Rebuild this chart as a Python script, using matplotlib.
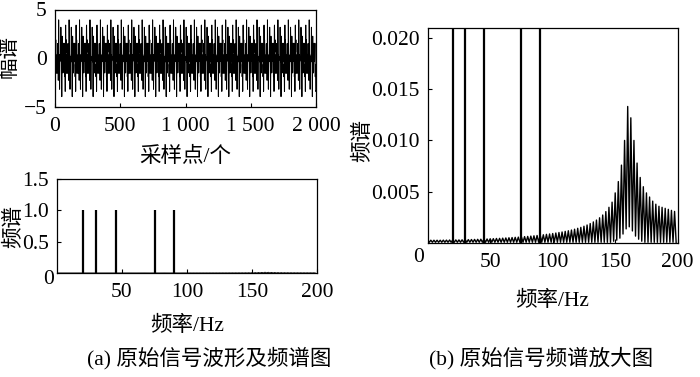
import numpy as np
import matplotlib
matplotlib.use("Agg")
import matplotlib.pyplot as plt

plt.rcParams['font.family'] = ['Liberation Serif', 'Noto Sans CJK SC']
plt.rcParams['axes.unicode_minus'] = True

# --- data ---
# sinusoid components of the original signal (Hz, amplitude)
sig_freqs = [20, 30, 45, 75, 90]
sig_amps = [1.0, 1.0, 1.0, 1.0, 1.0]
sample_rate = 400          # Hz, assumed
n_samples = 2000

# spectrum leakage comb: teeth every 2.5 Hz, tops and valleys
comb_step = 2.5
comb_tops = [
    0.00030, 0.00030, 0.00030, 0.00030, 0.00030, 0.00031, 0.00031, 0.00032,
    0.00032, 0.00033, 0.00033, 0.00034, 0.00035, 0.00036, 0.00037, 0.00038,
    0.00039, 0.00040, 0.00041, 0.00042, 0.00044, 0.00045, 0.00047, 0.00048,
    0.00050, 0.00052, 0.00054, 0.00056, 0.00058, 0.00060, 0.00062, 0.00065,
    0.00067, 0.00070, 0.00073, 0.00076, 0.00079, 0.00083, 0.00087, 0.00091,
    0.00095, 0.00100, 0.00105, 0.00110, 0.00116, 0.00122, 0.00129, 0.00137,
    0.00146, 0.00155, 0.00166, 0.00178, 0.00192, 0.00208, 0.00226, 0.00248,
    0.00275, 0.00308, 0.00350, 0.00400, 0.00490, 0.00600, 0.00760, 0.01000,
    0.01330, 0.01220, 0.01000, 0.00780, 0.00640, 0.00550, 0.00490, 0.00450,
    0.00410, 0.00380, 0.00360, 0.00350, 0.00340, 0.00330, 0.00320, 0.00310,
]
comb_valleys = [0.0001] * 59 + [
    0.0002, 0.0003, 0.0005, 0.0009, 0.0014, 0.0016, 0.0012, 0.0007, 0.0004,
    0.0002,
] + [0.0001] * 11

# --- derived ---
t = np.arange(n_samples) / sample_rate
signal = np.zeros(n_samples)
for f, a in zip(sig_freqs, sig_amps):
    signal += a * np.sin(2 * np.pi * f * t)

tooth_f = np.arange(len(comb_tops)) * comb_step
comb_x = np.empty(2 * len(comb_tops))
comb_y = np.empty(2 * len(comb_tops))
comb_x[0::2] = tooth_f
comb_x[1::2] = tooth_f + comb_step / 2
comb_y[0::2] = comb_tops
comb_y[1::2] = comb_valleys
keep = comb_x <= 200
comb_x, comb_y = comb_x[keep], comb_y[keep]

W, H = 700, 377
FS = 15.5
fig = plt.figure(figsize=(7, 3.77), dpi=100)


def px_axes(l, r, t_, b):
    return fig.add_axes([l / W, 1 - b / H, (r - l) / W, (b - t_) / H])


def style(ax):
    ax.tick_params(direction='in', labelsize=FS, length=3, width=0.8, pad=6,
                   top=False, right=False)
    ax.tick_params(axis='x', pad=7)
    for s in ax.spines.values():
        s.set_linewidth(0.9)


# (a) waveform
ax1 = px_axes(55, 316, 9.5, 107)
ax1.plot(np.arange(n_samples), signal, color='black', lw=0.7)
ax1.set_xlim(0, 2000)
ax1.set_ylim(-5, 5)
ax1.set_xticks([0, 500, 1000, 1500, 2000])
ax1.set_xticklabels(['0', '500', '1 000', '1 500', '2 000'])
ax1.set_yticks([-5, 0, 5])
ax1.set_yticklabels(['\u22125', '0', '5'])
style(ax1)
fig.text(10 / W, 1 - 57 / H, '幅谱', rotation=90, ha='center', va='center', fontsize=FS)
fig.text(185 / W, 1 - 157 / H, '采样点/个', ha='center', va='center', fontsize=FS)

# (a) spectrum
ax2 = px_axes(57, 317, 179, 273)
ax2.vlines(sig_freqs, 0, sig_amps, color='black', lw=1.6)
ax2.plot(comb_x, comb_y, color='black', lw=0.6)
ax2.set_xlim(0, 200)
ax2.set_ylim(0, 1.5)
ax2.set_xticks([50, 100, 150, 200])
ax2.set_yticks([0.5, 1.0, 1.5])
ax2.set_yticklabels(['0.5', '1.0', '1.5'])
style(ax2)
fig.text(49 / W, 1 - 279 / H, '0', ha='center', va='center', fontsize=FS)
fig.text(14 / W, 1 - 226 / H, '频谱', rotation=90, ha='center', va='center', fontsize=FS)
fig.text(187 / W, 1 - 326 / H, '频率/Hz', ha='center', va='center', fontsize=FS)
fig.text(209 / W, 1 - 358 / H, '(a) 原始信号波形及频谱图', ha='center', va='center', fontsize=FS)

# (b) zoomed spectrum
ax3 = px_axes(427.7, 677.7, 28.3, 243.3)
ax3.vlines(sig_freqs, 0, sig_amps, color='black', lw=1.6)
ax3.plot(comb_x, comb_y, color='black', lw=1.0)
ax3.set_xlim(0, 200)
ax3.set_ylim(0, 0.0209)
ax3.set_xticks([50, 100, 150, 200])
ax3.set_yticks([0.005, 0.010, 0.015, 0.020])
ax3.set_yticklabels(['0.005', '0.010', '0.015', '0.020'])
style(ax3)
fig.text(419 / W, 1 - 257 / H, '0', ha='center', va='center', fontsize=FS)
fig.text(363 / W, 1 - 140 / H, '频谱', rotation=90, ha='center', va='center', fontsize=FS)
fig.text(552 / W, 1 - 301 / H, '频率/Hz', ha='center', va='center', fontsize=FS)
fig.text(541 / W, 1 - 358 / H, '(b) 原始信号频谱放大图', ha='center', va='center', fontsize=FS)

fig.savefig('out.png', dpi=100)
